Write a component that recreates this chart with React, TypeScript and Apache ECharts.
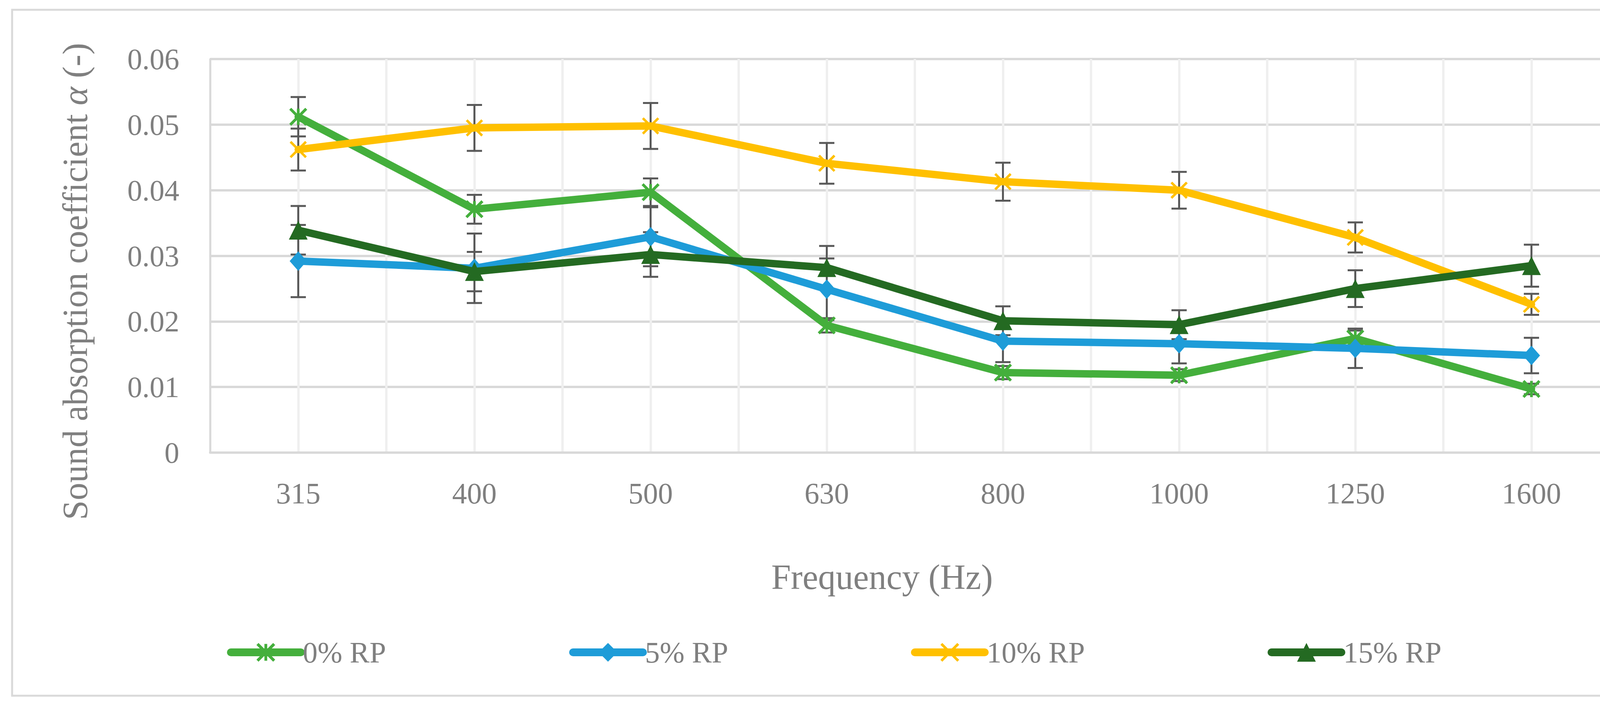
import React, { useEffect, useRef } from 'react';
import * as echarts from 'echarts';

const categories = ['315', '400', '500', '630', '800', '1000', '1250', '1600'];
const seriesNames = ['0% RP', '5% RP', '10% RP', '15% RP'];

const rp0 = [0.0512, 0.0371, 0.0397, 0.0194, 0.0122, 0.0118, 0.0174, 0.0097];
const rp5 = [0.0292, 0.0281, 0.0329, 0.0249, 0.017, 0.0166, 0.0159, 0.0148];
const rp10 = [0.0462, 0.0495, 0.0498, 0.0441, 0.0413, 0.04, 0.0328, 0.0226];
const rp15 = [0.0339, 0.0276, 0.0302, 0.0282, 0.0201, 0.0195, 0.025, 0.0285];

// +/- error half-ranges
const err0 = [0.003, 0.0022, 0.0021, 0.0011, 0.001, 0.0009, 0.0012, 0.0008];
const err5 = [0.0055, 0.0053, 0.0045, 0.0047, 0.0032, 0.003, 0.003, 0.0027];
const err10 = [0.0032, 0.0035, 0.0035, 0.0031, 0.0029, 0.0028, 0.0023, 0.0016];
const err15 = [0.0037, 0.003, 0.0034, 0.0033, 0.0022, 0.0022, 0.0028, 0.0032];

const colors = ['#44AF3C', '#1E9CD8', '#FFC000', '#246A22'];
const FONT = '"Liberation Serif", "Times New Roman", serif';
const TEXT = '#7f7f7f';

const X_PATH = 'path://M10,0L50,40L90,0L100,10L60,50L100,90L90,100L50,60L10,100L0,90L40,50L0,10Z';
const STAR_PATH =
  'path://M11,0L50,39L89,0L100,11L61,50L100,89L89,100L50,61L11,100L0,89L39,50L0,11ZM42.5,5L57.5,5L57.5,95L42.5,95Z';

const App: React.FC = () => {
  const chartRef = useRef<HTMLDivElement>(null);

  useEffect(() => {
    document.body.style.margin = '0';
    if (!chartRef.current) return;
    const chart = echarts.init(chartRef.current, undefined, { renderer: 'svg' });

    const values = [rp0, rp5, rp10, rp15];
    const errors = [err0, err5, err10, err15];
    const symbols: any[] = [STAR_PATH, 'diamond', X_PATH, 'triangle'];
    const symbolSizes: any[] = [46, [44, 50], 44, [48, 48]];

    const errorData: number[][] = [];
    values.forEach((vals, s) => {
      vals.forEach((v, i) => {
        errorData.push([i, v - errors[s][i], v + errors[s][i]]);
      });
    });

    const lineSeries = seriesNames.map((name, s) => ({
      name,
      type: 'line',
      data: values[s],
      z: 3 + s,
      symbol: symbols[s],
      symbolSize: symbolSizes[s],
      showAllSymbol: true,
      itemStyle: { color: colors[s] },
      lineStyle: { color: colors[s], width: 19, cap: 'round', join: 'round' },
    }));

    const legends = seriesNames.map((name, s) => ({
      data: [name],
      left: [581, 1457, 2332, 3245][s],
      top: 1631,
      padding: 0,
      itemWidth: 179,
      itemHeight: 60,
      itemGap: 0,
      selectedMode: false,
      lineStyle: { width: 20, cap: 'round' },
      textStyle: { fontFamily: FONT, fontSize: 76, color: TEXT },
    }));

    const option: any = {
      animation: false,
      backgroundColor: '#ffffff',
      legend: legends,
      grid: { left: 538, right: 104, top: 151, bottom: 656, containLabel: false },
      xAxis: [
        {
          type: 'category',
          data: categories,
          boundaryGap: true,
          axisLine: { show: true, lineStyle: { color: '#d9d9d9', width: 6 } },
          axisTick: { show: false },
          splitLine: { show: false },
          axisLabel: { fontFamily: FONT, fontSize: 76, color: TEXT, margin: 66 },
        },
        {
          type: 'value',
          min: 0,
          max: 16,
          interval: 1,
          position: 'bottom',
          axisLine: { show: false },
          axisTick: { show: false },
          axisLabel: { show: false },
          splitLine: { show: true, lineStyle: { color: '#efefef', width: 6 } },
        },
      ],
      yAxis: {
        type: 'value',
        min: 0,
        max: 0.06,
        interval: 0.01,
        axisLine: { show: true, lineStyle: { color: '#d9d9d9', width: 5 } },
        axisTick: { show: false },
        axisLabel: { fontFamily: FONT, fontSize: 76, color: TEXT, margin: 79 },
        splitLine: { show: true, lineStyle: { color: '#d9d9d9', width: 6 } },
      },
      graphic: [
        {
          type: 'rect',
          shape: { x: 31, y: 25, width: 4188, height: 1755 },
          style: { fill: 'none', stroke: '#d9d9d9', lineWidth: 5 },
          silent: true,
        },
        {
          type: 'text',
          x: 192,
          y: 720,
          rotation: Math.PI / 2,
          style: {
            text: 'Sound absorption coefficient {a|\u03b1} (-)',
            fontFamily: FONT,
            fontSize: 90,
            fill: TEXT,
            align: 'center',
            verticalAlign: 'middle',
            rich: { a: { fontFamily: FONT, fontSize: 90, fontStyle: 'italic', fill: TEXT } },
          },
          silent: true,
        },
        {
          type: 'text',
          x: 2258,
          y: 1476,
          style: {
            text: 'Frequency (Hz)',
            fontFamily: FONT,
            fontSize: 90,
            fill: TEXT,
            align: 'center',
            verticalAlign: 'middle',
          },
          silent: true,
        },
      ],
      series: [
        {
          type: 'custom',
          name: 'error',
          xAxisIndex: 0,
          yAxisIndex: 0,
          z: 2,
          silent: true,
          data: errorData,
          encode: { x: 0, y: [1, 2] },
          renderItem: (params: any, api: any) => {
            const i = api.value(0);
            const top = api.coord([i, api.value(2)]);
            const bot = api.coord([i, api.value(1)]);
            const hw = 19.5;
            const style = { stroke: '#595959', lineWidth: 5 };
            return {
              type: 'group',
              children: [
                { type: 'line', shape: { x1: top[0], y1: top[1], x2: bot[0], y2: bot[1] }, style },
                { type: 'line', shape: { x1: top[0] - hw, y1: top[1], x2: top[0] + hw, y2: top[1] }, style },
                { type: 'line', shape: { x1: bot[0] - hw, y1: bot[1], x2: bot[0] + hw, y2: bot[1] }, style },
              ],
            };
          },
        },
        ...lineSeries,
      ],
    };

    chart.setOption(option);
    return () => {
      chart.dispose();
    };
  }, []);

  return <div ref={chartRef} style={{ width: '4250px', height: '1814px', background: '#fff' }} />;
};

export default App;
